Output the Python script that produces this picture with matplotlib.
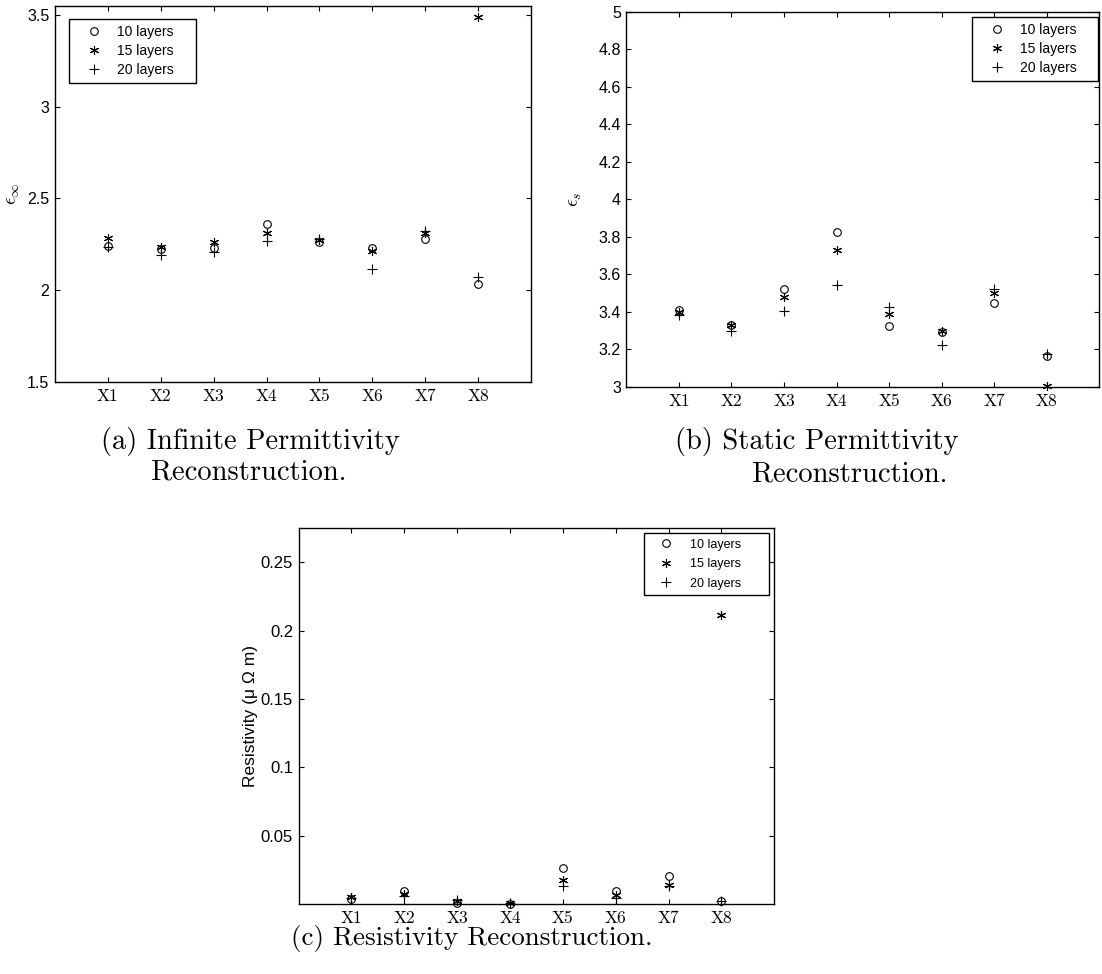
import numpy as np
import matplotlib
matplotlib.use("Agg")
import matplotlib.pyplot as plt

# values
samples = ['X1', 'X2', 'X3', 'X4', 'X5', 'X6', 'X7', 'X8']
layers = ['10 layers', '15 layers', '20 layers']

eps_inf_10 = [2.240, 2.225, 2.227, 2.360, 2.264, 2.227, 2.280, 2.034]
eps_inf_15 = [2.285, 2.233, 2.260, 2.313, 2.273, 2.214, 2.309, 3.491]
eps_inf_20 = [2.236, 2.191, 2.209, 2.266, 2.280, 2.113, 2.324, 2.069]

eps_s_10 = [3.408, 3.331, 3.520, 3.824, 3.322, 3.290, 3.445, 3.162]
eps_s_15 = [3.397, 3.328, 3.477, 3.732, 3.386, 3.299, 3.499, 3.002]
eps_s_20 = [3.383, 3.297, 3.404, 3.545, 3.425, 3.221, 3.523, 3.176]

res_10 = [0.0036, 0.0092, 0.0006, 0.0000, 0.0260, 0.0097, 0.0207, 0.0023]
res_15 = [0.0051, 0.0072, 0.0023, 0.0006, 0.0177, 0.0067, 0.0136, 0.2118]
res_20 = [0.0044, 0.0060, 0.0030, 0.0010, 0.0128, 0.0044, 0.0128, 0.0023]

plt.rcParams['font.family'] = 'Liberation Sans'
plt.rcParams['mathtext.fontset'] = 'cm'

x = np.arange(1, len(samples) + 1)
asterisk = (6, 2, 0)
styles = [dict(marker='o', ms=5.5, mfc='none'),
          dict(marker=asterisk, ms=6.5),
          dict(marker='+', ms=7)]


def panel(rect, series, ylim, yticks, ylabel, ylabel_x, ylabel_size,
          tick_size, leg_box, leg_size, leg_spacing, leg_hl, leg_pad):
    ax = fig.add_axes(rect)
    for vals, st in zip(series, styles):
        ax.plot(x, vals, ls='none', color='black', mew=0.8, clip_on=False, **st)
    ax.set_xlim(0, 9)
    ax.set_ylim(*ylim)
    ax.set_xticks(x)
    ax.set_xticklabels(samples, fontfamily='cmr10', fontsize=12.5)
    ax.set_yticks(yticks)
    ax.set_yticklabels([('%g' % t) for t in yticks], fontsize=tick_size)
    ax.tick_params(direction='in', length=3.5, width=0.8, top=True, right=True)
    ax.tick_params(axis='x', pad=5)
    ax.tick_params(axis='y', pad=4)
    for s in ax.spines.values():
        s.set_linewidth(1.0)
    ax.set_ylabel(ylabel, fontsize=ylabel_size)
    ax.yaxis.set_label_coords(ylabel_x, 0.5)
    leg = ax.legend(layers, loc='upper left', bbox_to_anchor=leg_box,
                    mode='expand', borderaxespad=0, fontsize=leg_size,
                    fancybox=False, edgecolor='black', framealpha=1,
                    handlelength=leg_hl, handletextpad=leg_pad,
                    labelspacing=leg_spacing, borderpad=0.45)
    leg.get_frame().set_linewidth(1.0)
    return ax


fig = plt.figure(figsize=(11.02, 9.74), dpi=100)

panel([0.0499, 0.6083, 0.4319, 0.3855], [eps_inf_10, eps_inf_15, eps_inf_20],
      (1.5, 3.55), [1.5, 2, 2.5, 3, 3.5], r'$\epsilon_\infty$', -0.069, 14,
      11.5, (0.0294, 0.9654, 0.2668, 0), 10, 0.35, 2.7, 0.3)

panel([0.5685, 0.6030, 0.4288, 0.3847], [eps_s_10, eps_s_15, eps_s_20],
      (3, 5), [3, 3.2, 3.4, 3.6, 3.8, 4, 4.2, 4.4, 4.6, 4.8, 5],
      r'$\epsilon_s$', -0.090, 14,
      11.5, (0.7306, 0.9867, 0.2667, 0), 10, 0.35, 2.7, 0.3)

panel([0.2710, 0.0719, 0.4316, 0.3857], [res_10, res_15, res_20],
      (0, 0.275), [0.05, 0.1, 0.15, 0.2, 0.25],
      'Resistivity (\u03bc \u03a9 m)', -0.086, 12.5,
      12, (0.7254, 0.9875, 0.2641, 0), 9, 0.6, 2.7, 0.55)

cap = dict(fontfamily='cmr10', fontsize=20.5, ha='center', va='center')
fig.text(250 / 1102, 1 - 441 / 974, '(a) Infinite Permittivity', **cap)
fig.text(249 / 1102, 1 - 472 / 974, 'Reconstruction.', **cap)
fig.text(817 / 1102, 1 - 441 / 974, '(b) Static Permittivity', **cap)
fig.text(850 / 1102, 1 - 474 / 974, 'Reconstruction.', **cap)
cap['fontsize'] = 19.5
fig.text(472 / 1102, 1 - 939 / 974, '(c) Resistivity Reconstruction.', **cap)

fig.savefig('out.png', dpi=100)
